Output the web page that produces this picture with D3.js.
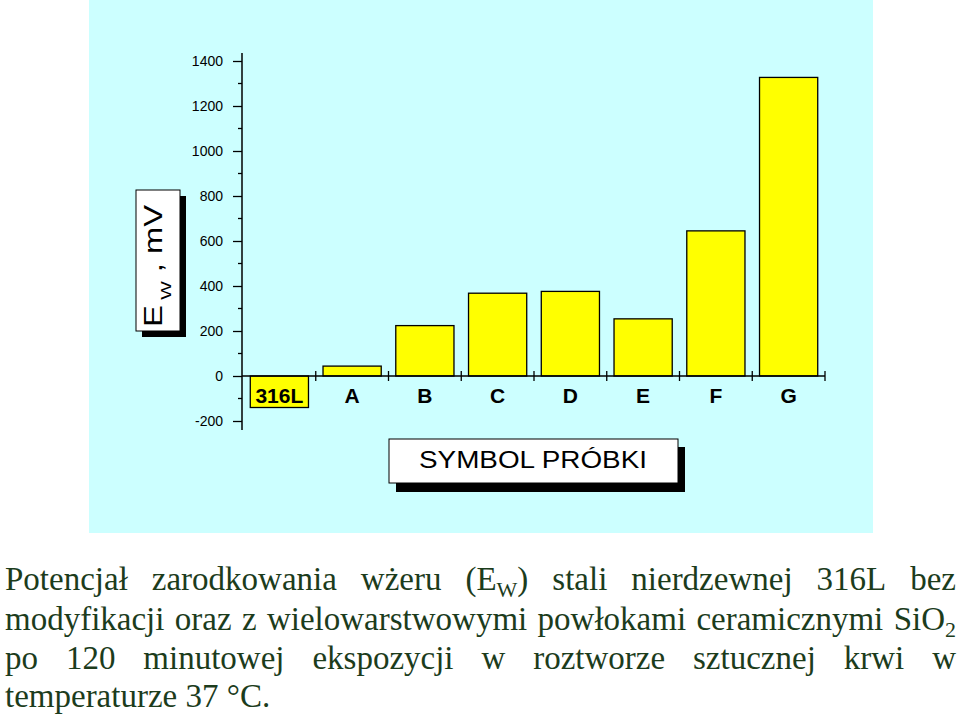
<!DOCTYPE html>
<html>
<head>
<meta charset="utf-8">
<script src="https://cdn.jsdelivr.net/npm/d3@7"></script>
<style>
  html, body { margin: 0; padding: 0; background: #ffffff; }
  svg { display: block; }
</style>
</head>
<body>
<svg id="chart" width="960" height="721"></svg>
<script>
// ---- data ----
const categories = ["316L", "A", "B", "C", "D", "E", "F", "G"];
const values = [-140, 44, 224, 368, 376, 254, 645, 1327];
const yTicks = [-200, 0, 200, 400, 600, 800, 1000, 1200, 1400];
const yMinorTicks = [-100, 100, 300, 500, 700, 900, 1100, 1300];
const yTitle = ["E", "W", " , mV"];
const xTitle = "SYMBOL PRÓBKI";
const captionLines = [
  [[["Potencjał"]], [["zarodkowania"]], [["wżeru"]], [["(E"], ["W", "sub"], [")"]], [["stali"]], [["nierdzewnej"]], [["316L"]], [["bez"]]],
  [[["modyfikacji"]], [["oraz"]], [["z"]], [["wielowarstwowymi"]], [["powłokami"]], [["ceramicznymi"]], [["SiO"], ["2", "sub"]]],
  [[["po"]], [["120"]], [["minutowej"]], [["ekspozycji"]], [["w"]], [["roztworze"]], [["sztucznej"]], [["krwi"]], [["w"]]],
  [[["temperaturze"]], [["37"]], [["°C."]]]
];
const captionJustify = [true, true, true, false];

// ---- layout ----
const svg = d3.select("#chart");
const X0 = 243, X1 = 825;
const x = d3.scaleBand().domain(categories).range([X0, X1]).paddingInner(0.2).paddingOuter(0.1);
const y = d3.scaleLinear().domain([-200, 1400]).range([421, 61]);

// cyan panel
svg.append("rect").attr("x", 89).attr("y", 0).attr("width", 784).attr("height", 533).attr("fill", "#ccffff");

// bars
svg.append("g").selectAll("rect").data(categories).join("rect")
  .attr("x", d => x(d))
  .attr("width", x.bandwidth())
  .attr("y", (d, i) => y(Math.max(0, values[i])))
  .attr("height", (d, i) => Math.abs(y(values[i]) - y(0)))
  .attr("fill", "#ffff00")
  .attr("stroke", "#000")
  .attr("stroke-width", 1.3);

// y axis
const yAxis = d3.axisLeft(y).tickValues(yTicks).tickSize(9).tickPadding(10).tickFormat(d => String(d));
const gy = svg.append("g").attr("transform", `translate(${X0 - 1},0)`).call(yAxis);
gy.select(".domain").remove();
gy.selectAll(".tick line").attr("stroke", "#000").attr("stroke-width", 1.3);
gy.selectAll(".tick text").attr("font-family", "Arial, 'Liberation Sans', sans-serif").attr("font-size", 14).attr("fill", "#000");
svg.append("line").attr("x1", X0 - 1).attr("x2", X0 - 1).attr("y1", 53).attr("y2", 430).attr("stroke", "#000").attr("stroke-width", 1.5);
svg.append("g").selectAll("line").data(yMinorTicks).join("line")
  .attr("x1", X0 - 5).attr("x2", X0 - 1)
  .attr("y1", d => y(d)).attr("y2", d => y(d))
  .attr("stroke", "#000").attr("stroke-width", 1.3);

// x axis line & boundary ticks
svg.append("line").attr("x1", X0 - 1).attr("x2", X1).attr("y1", y(0)).attr("y2", y(0)).attr("stroke", "#000").attr("stroke-width", 1.5);
const step = x.step();
svg.append("g").selectAll("line").data(categories).join("line")
  .attr("x1", d => x(d) + x.bandwidth() + (step - x.bandwidth()) / 2)
  .attr("x2", d => x(d) + x.bandwidth() + (step - x.bandwidth()) / 2)
  .attr("y1", y(0) - 5).attr("y2", y(0) + 5)
  .attr("stroke", "#000").attr("stroke-width", 1.3);

// category labels
svg.append("g").selectAll("text").data(categories).join("text")
  .attr("x", d => x(d) + x.bandwidth() / 2)
  .attr("y", 403)
  .attr("text-anchor", "middle")
  .attr("font-family", "Arial, 'Liberation Sans', sans-serif")
  .attr("font-weight", "bold")
  .attr("font-size", 21)
  .attr("fill", "#000")
  .text(d => d);

// y title box
svg.append("rect").attr("x", 142).attr("y", 196).attr("width", 44).attr("height", 141).attr("fill", "#000");
svg.append("rect").attr("x", 136).attr("y", 190).attr("width", 44).attr("height", 141).attr("fill", "#fff").attr("stroke", "#000").attr("stroke-width", 1);
const yt = svg.append("text")
  .attr("transform", "translate(162,266) rotate(-90)")
  .attr("text-anchor", "middle")
  .attr("font-family", "Arial, 'Liberation Sans', sans-serif")
  .attr("font-size", 25)
  .attr("fill", "#000")
  .attr("textLength", 122)
  .attr("lengthAdjust", "spacingAndGlyphs");
yt.append("tspan").text(yTitle[0]);
yt.append("tspan").attr("font-size", 15).attr("dy", 9).text(" " + yTitle[1]);
yt.append("tspan").attr("dy", -9).text(yTitle[2]);

// x title box
svg.append("rect").attr("x", 396).attr("y", 447).attr("width", 289).attr("height", 45).attr("fill", "#000");
svg.append("rect").attr("x", 389).attr("y", 439).attr("width", 289).attr("height", 44).attr("fill", "#fff").attr("stroke", "#000").attr("stroke-width", 1);
svg.append("text")
  .attr("x", 533).attr("y", 468)
  .attr("text-anchor", "middle")
  .attr("font-family", "Arial, 'Liberation Sans', sans-serif")
  .attr("font-size", 23)
  .attr("fill", "#000")
  .attr("textLength", 228)
  .attr("lengthAdjust", "spacingAndGlyphs")
  .text(xTitle);

// caption
const capColor = "#1c3c1c";
const capLeft = 5, capRight = 956;
const baselines = [590, 630, 669, 707];
captionLines.forEach((line, li) => {
  const g = svg.append("g");
  const nodes = line.map(word => {
    const t = g.append("text")
      .attr("y", baselines[li])
      .attr("font-family", "'Liberation Serif', 'Times New Roman', serif")
      .attr("font-size", 33)
      .attr("fill", capColor);
    let sub = false;
    word.forEach(seg => {
      const ts = t.append("tspan").text(seg[0]);
      if (seg[1] === "sub") { ts.attr("font-size", 22).attr("dy", 7); sub = true; }
      else if (sub) { ts.attr("dy", -7); sub = false; }
    });
    return t;
  });
  const widths = nodes.map(n => n.node().getComputedTextLength());
  const total = d3.sum(widths);
  const gap = captionJustify[li] ? (capRight - capLeft - total) / (nodes.length - 1) : 33 * 0.25;
  let cx = capLeft;
  nodes.forEach((n, i) => { n.attr("x", cx); cx += widths[i] + gap; });
});
</script>
</body>
</html>
